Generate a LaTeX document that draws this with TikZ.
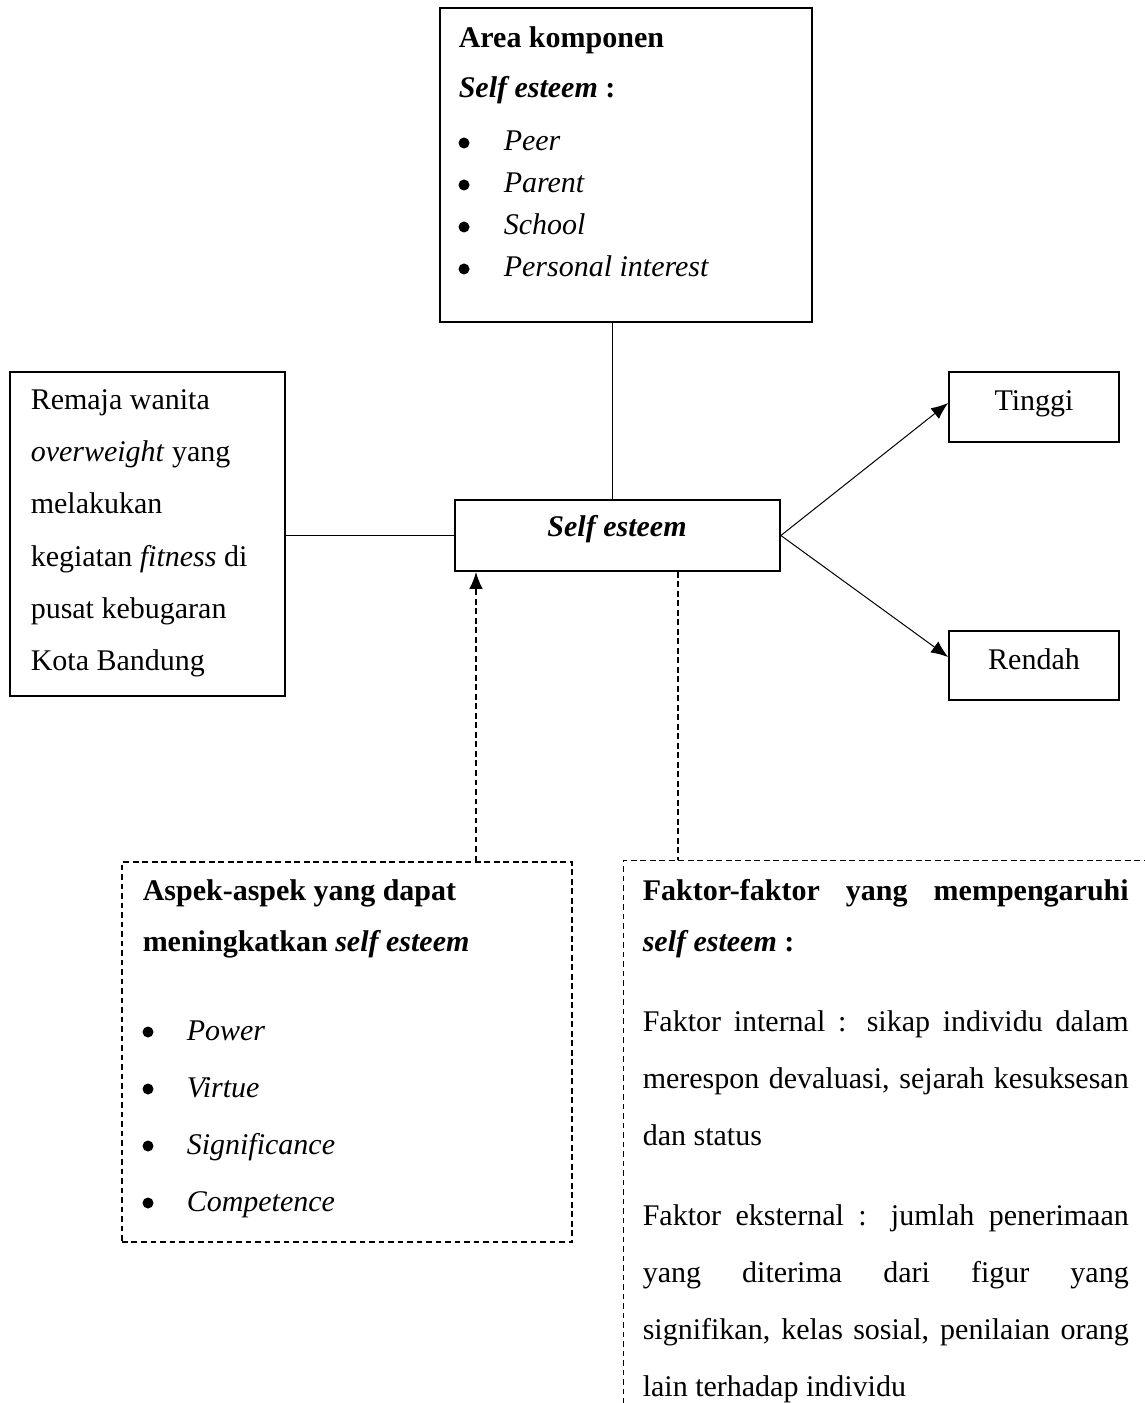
\documentclass[12pt,tikz,border=0pt]{standalone}
\usepackage{fontspec}
\setmainfont{Liberation Serif}
\usetikzlibrary{arrows.meta}

\begin{document}
\begin{tikzpicture}[x=0.4pt, y=-0.4pt, semithick,
box/.style ={draw, line width=0.7pt, inner sep=0pt},
dashbox/.style ={draw, line width=0.6pt, dash pattern=on 2.3pt off 1.5pt, inner sep=0pt},
link/.style ={line width=0.4pt},
dashlink/.style ={line width=0.6pt, dash pattern=on 2.3pt off 1.5pt},
tip/.style ={-{Latex[length=6.8pt,width=5.4pt]}},
txt/.style ={anchor=base west, inner sep=0pt},
mid/.style ={anchor=base, inner sep=0pt},
dot/.style ={circle, fill, inner sep=0pt, minimum size=4.4pt}]
\useasboundingbox (0,0) rectangle (1144,1403);

% boxes
\node[box, minimum width=148.8pt, minimum height=125.6pt] (Komponen) at (626,165) {};
\node[box, minimum width=130pt, minimum height=28.4pt] (SelfEsteem) at (617.5,535.5) {};
\node[box, minimum width=110pt, minimum height=129.6pt] (Remaja) at (147.5,534) {};
\node[box, minimum width=68pt, minimum height=28pt] (Tinggi) at (1034,407) {};
\node[box, minimum width=68pt, minimum height=27.6pt] (Rendah) at (1034,665.5) {};
\node[dashbox, minimum width=180pt, minimum height=152pt] (Aspek) at (347,1052) {};
\node[inner sep=0pt, minimum width=208pt, minimum height=216.8pt] (Faktor) at (884,1132) {};

% area komponen
\node[txt, font=\bfseries] (KompTitle) at (458,48) {Area komponen};
\node[txt, font=\bfseries] (KompSub) at (458,98) {\textit{Self esteem} :};
\node[dot] (KompDotA) at (464,143) {};
\node[dot] (KompDotB) at (464,185) {};
\node[dot] (KompDotC) at (464,227) {};
\node[dot] (KompDotD) at (464,269) {};
\node[txt, font=\itshape] (KompPeer) at (503,151) {Peer};
\node[txt, font=\itshape] (KompParent) at (503,193) {Parent};
\node[txt, font=\itshape] (KompSchool) at (503,235) {School};
\node[txt, font=\itshape] (KompInterest) at (503,277) {Personal interest};

% remaja
\node[txt] (RemajaA) at (30,410) {Remaja wanita};
\node[txt] (RemajaB) at (30,462) {\textit{overweight} yang};
\node[txt] (RemajaC) at (30,514) {melakukan};
\node[txt] (RemajaD) at (30,566) {kegiatan \textit{fitness} di};
\node[txt] (RemajaE) at (30,618) {pusat kebugaran};
\node[txt] (RemajaF) at (30,670) {Kota Bandung};

% self esteem, tinggi, rendah
\node[mid, font=\bfseries\itshape] (SelfEsteemText) at (617,537) {Self esteem};
\node[mid] (TinggiText) at (1034,411) {Tinggi};
\node[mid] (RendahText) at (1034,669) {Rendah};

% aspek
\node[txt, font=\bfseries] (AspekA) at (142,900) {Aspek-aspek yang dapat};
\node[txt, font=\bfseries] (AspekB) at (142,951) {meningkatkan \textit{self esteem}};
\node[dot] (AspekDotA) at (148,1032) {};
\node[dot] (AspekDotB) at (148,1089) {};
\node[dot] (AspekDotC) at (148,1146) {};
\node[dot] (AspekDotD) at (148,1203) {};
\node[txt, font=\itshape] (AspekPower) at (186,1040) {Power};
\node[txt, font=\itshape] (AspekVirtue) at (186,1097) {Virtue};
\node[txt, font=\itshape] (AspekSign) at (186,1154) {Significance};
\node[txt, font=\itshape] (AspekComp) at (186,1211) {Competence};

% faktor
\node[txt, font=\bfseries] (FaktorA) at (642,900) {\makebox[194.4pt][s]{Faktor-faktor yang mempengaruhi}};
\node[txt, font=\bfseries] (FaktorB) at (642,951) {\textit{self esteem} :};
\node[txt] (FaktorC) at (642,1031) {\makebox[194.4pt][s]{Faktor internal : sikap individu dalam}};
\node[txt] (FaktorD) at (642,1088) {\makebox[194.4pt][s]{merespon devaluasi, sejarah kesuksesan}};
\node[txt] (FaktorE) at (642,1145) {dan status};
\node[txt] (FaktorF) at (642,1225) {\makebox[194.4pt][s]{Faktor eksternal : jumlah penerimaan}};
\node[txt] (FaktorG) at (642,1282) {\makebox[194.4pt][s]{yang diterima dari figur yang}};
\node[txt] (FaktorH) at (642,1339) {\makebox[194.4pt][s]{signifikan, kelas sosial, penilaian orang}};
\node[txt] (FaktorI) at (642,1396) {lain terhadap individu};

% connectors
\coordinate (Stem) at (612,0);
\coordinate (UpX) at (476,0);
\coordinate (DownX) at (678,0);
\path (Komponen.south -| Stem) edge[link] (SelfEsteem.north -| Stem);
\path (Remaja.east |- SelfEsteem.west) edge[link] (SelfEsteem.west);
\path (SelfEsteem.east) edge[link, tip] ([yshift=1.6pt]Tinggi.west);
\path (SelfEsteem.east) edge[link, tip] ([yshift=3.4pt]Rendah.west);
\path (Aspek.north -| UpX) edge[dashlink, tip] (SelfEsteem.south -| UpX);
\path (SelfEsteem.south -| DownX) edge[dashlink] (Faktor.north -| DownX);
\draw[dashlink] (Faktor.south west) |- (Faktor.north east);
\end{tikzpicture}
\end{document}
